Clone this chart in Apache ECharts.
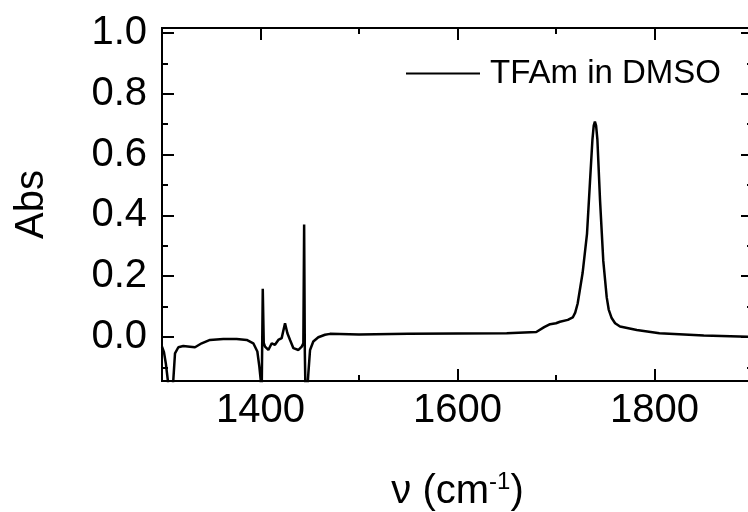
<!DOCTYPE html>
<html>
<head>
<meta charset="utf-8">
<script src="https://cdn.jsdelivr.net/npm/echarts@6/dist/echarts.min.js"></script>
<style>
html,body{margin:0;padding:0;background:#fff;}
#chart{width:748px;height:512px;}
</style>
</head>
<body>
<div id="chart"></div>
<script>
// ---- data ----
const wavenumber = [
  1300, 1302, 1304, 1306, 1308, 1310, 1311.5, 1313.2, 1316.6, 1321.6, 1328.4, 1333.5, 1340.3, 1348.7,
  1362.2, 1375.8, 1386, 1392.7, 1396.8, 1398.8, 1400.2, 1401, 1402, 1402.3, 1403.3, 1404.6, 1408,
  1411.4, 1414.7, 1418.1, 1421.5, 1424.9, 1427.3, 1430, 1433.4, 1438.5, 1441.9, 1443.5, 1444.3,
  1445.0, 1446, 1447.3, 1448.6, 1450.3, 1453.6, 1458.7, 1465.5, 1470.6, 1500, 1550, 1600, 1650,
  1680, 1688, 1694, 1700, 1704, 1712, 1717, 1719.5, 1722, 1727, 1731.5, 1734.5, 1737, 1738.3, 1739.5,
  1740.7, 1742, 1744.7, 1748, 1751.5, 1753.5, 1756.5, 1760, 1765, 1782, 1805, 1850, 1900
];
const absorbance = [
  -0.032, -0.05, -0.09, -0.145, -0.25, -0.25, -0.141, -0.054, -0.034, -0.030, -0.032, -0.034, -0.021, -0.010,
  -0.007, -0.007, -0.010, -0.021, -0.048, -0.097, -0.141, -0.25, -0.25, 0.158, -0.02, -0.032, -0.043,
  -0.021, -0.026, -0.010, -0.004, 0.045, 0.012, -0.010, -0.037, -0.043, -0.032, -0.021, 0.37,
  -0.05, -0.25, -0.25, -0.119, -0.043, -0.015, -0.001, 0.007, 0.010, 0.008, 0.010, 0.011, 0.012,
  0.016, 0.032, 0.042, 0.045, 0.05, 0.056, 0.064, 0.08, 0.11, 0.21, 0.34, 0.51, 0.65, 0.695, 0.708,
  0.695, 0.65, 0.45, 0.25, 0.13, 0.09, 0.062, 0.045, 0.034, 0.023, 0.012, 0.005, 0.0
];
const seriesName = 'TFAm in DMSO';
const xMajorTicks = [1400, 1600, 1800];
const xMinorTicks = [1300, 1500, 1700, 1900];
const yMajorTicks = [0, 0.2, 0.4, 0.6, 0.8, 1.0];
const yMinorTicks = [-0.1, 0.1, 0.3, 0.5, 0.7, 0.9];
const xRange = [1300, 1900];
const yRange = [-0.145, 1.016];

// ---- chart ----
const FONT = 'Liberation Sans, Arial, sans-serif';
const lineStyle = { color: '#000', width: 2 };
const points = wavenumber.map((w, i) => [w, absorbance[i]]);

function xAx(pos, ticks, len, labels, extra) {
  return Object.assign({
    type: 'value', position: pos, min: xRange[0], max: xRange[1],
    axisLine: { show: true, onZero: false, lineStyle: lineStyle },
    axisTick: { show: true, inside: true, length: len, customValues: ticks, lineStyle: lineStyle },
    axisLabel: labels ? { show: true, customValues: xMajorTicks, margin: 10, color: '#000', fontSize: 40, fontFamily: FONT,
      formatter: v => String(v) } : { show: false },
    splitLine: { show: false }
  }, extra || {});
}
function yAx(pos, ticks, len, labels, extra) {
  return Object.assign({
    type: 'value', position: pos, min: yRange[0], max: yRange[1],
    axisLine: { show: true, onZero: false, lineStyle: lineStyle },
    axisTick: { show: true, inside: true, length: len, customValues: ticks, lineStyle: lineStyle },
    axisLabel: labels ? { show: true, customValues: yMajorTicks, margin: 15, color: '#000', fontSize: 40, fontFamily: FONT,
      formatter: v => v.toFixed(1) } : { show: false },
    splitLine: { show: false }
  }, extra || {});
}

const chart = echarts.init(document.getElementById('chart'), null, { renderer: 'canvas' });
chart.setOption({
  animation: false,
  backgroundColor: '#fff',
  grid: { left: 162, right: -5, top: 28, bottom: 131, containLabel: false, outerBoundsMode: 'none' },
  legend: {
    show: true, left: 401, top: 52, itemWidth: 74, itemHeight: 2, itemGap: 10,
    data: [{ name: seriesName, icon: 'rect' }],
    textStyle: { color: '#000', fontSize: 33, fontFamily: FONT, padding: [0, 0, 0, 5] }
  },
  xAxis: [
    xAx('bottom', xMajorTicks, 12, true, {
      name: '{a|ν (cm}{s|-1}{a|)}', nameLocation: 'middle', nameGap: 89,
      nameTextStyle: { rich: {
        a: { fontSize: 40, fontFamily: FONT, color: '#000' },
        s: { fontSize: 24, fontFamily: FONT, color: '#000', verticalAlign: 'top', padding: [0, 0, 20, 0] }
      } }
    }),
    xAx('bottom', xMinorTicks, 6, false),
    xAx('top', xMajorTicks, 12, false),
    xAx('top', xMinorTicks, 6, false)
  ],
  yAxis: [
    yAx('left', yMajorTicks, 12, true, {
      name: 'Abs', nameLocation: 'middle', nameGap: 110,
      nameTextStyle: { fontSize: 40, fontFamily: FONT, color: '#000' }
    }),
    yAx('left', yMinorTicks, 6, false),
    yAx('right', yMajorTicks, 12, false),
    yAx('right', yMinorTicks, 6, false)
  ],
  series: [{
    name: seriesName, type: 'line', data: points, xAxisIndex: 0, yAxisIndex: 0,
    showSymbol: false, symbol: 'none', clip: true, smooth: false,
    lineStyle: { color: '#000', width: 2.5 }, itemStyle: { color: '#000' }
  }]
});
</script>
</body>
</html>
